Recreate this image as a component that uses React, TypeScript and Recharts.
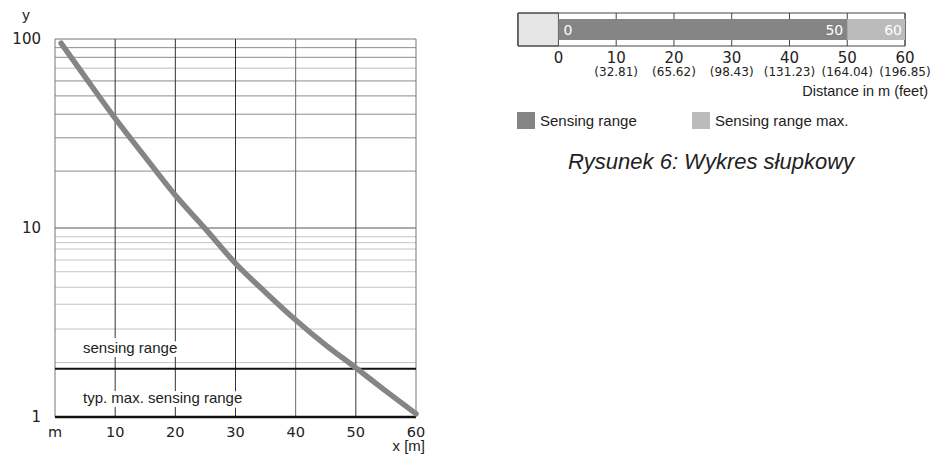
import React from 'react';
import {
  LineChart,
  Line,
  XAxis,
  YAxis,
  ReferenceLine,
  BarChart,
  Bar,
  CartesianGrid,
  ReferenceArea,
  LabelList,
  Legend,
} from 'recharts';

const FONT = '"Liberation Sans", Arial, sans-serif';
const NUM_FONT = '"DejaVu Sans", sans-serif';

// ---------- Left chart (log scale) ----------
const distances = [1, 5, 10, 15, 20, 25, 30, 35, 40, 45, 50, 55, 60];
const excessGain = [95, 63, 38, 23.7, 14.9, 9.9, 6.5, 4.56, 3.26, 2.4, 1.82, 1.37, 1.04];
const xTicks = [0, 10, 20, 30, 40, 50, 60];
const xTickLabels = ['m', '10', '20', '30', '40', '50', '60'];
const yTicks = [1, 10, 100];
const yGridDecade = [10];
const yGridUpper = [20, 30, 40, 50, 60, 80, 90];
const yGridUpperLight = [70];
const yGridLower = [1.94, 2.92, 3.95, 4.86, 5.87, 6.77, 7.74, 8.36, 8.99];
const xGridDark = [10, 20, 30, 50];
const xGridMid = [40];
const sensingRangeLimit = 1.8;

const lineData = distances.map((d, i) => ({ x: d, y: excessGain[i] }));

// ---------- Right bar chart ----------
const barTicks = [0, 10, 20, 30, 40, 50, 60];
const feetLabels = ['', '(32.81)', '(65.62)', '(98.43)', '(131.23)', '(164.04)', '(196.85)'];
const rangeStart = 0;
const sensingRange = 50;
const sensingRangeMax = 60;
const blindZoneStart = -7;
const barData = [
  { name: 'range', sensing: sensingRange, extra: sensingRangeMax - sensingRange },
];

const RangeLabels = (props: any) => {
  const vb = props.viewBox || {};
  const x = (vb.x ?? 55) + 28;
  const y = vb.y ?? 369;
  const common = {
    fontSize: 15,
    fill: '#222',
    stroke: '#fff',
    strokeWidth: 8,
    strokeLinejoin: 'round' as const,
    paintOrder: 'stroke',
    fontFamily: FONT,
  };
  return (
    <g>
      <text x={x} y={y - 15.5} {...common}>sensing range</text>
      <text x={x} y={y + 34} {...common}>typ. max. sensing range</text>
    </g>
  );
};

const YLabel = (props: any) => {
  const vb = props.viewBox || {};
  return (
    <text x={(vb.x ?? 10) + 16} y={(vb.y ?? 39) - 19} textAnchor="middle" fontSize={15} fill="#222" fontFamily={FONT}>
      y
    </text>
  );
};

const XLabel = (props: any) => {
  const vb = props.viewBox || {};
  return (
    <text x={(vb.x ?? 55) + (vb.width ?? 361) + 9} y={(vb.y ?? 417) + 34} textAnchor="end" fontSize={15} fill="#222" fontFamily={FONT}>
      x [m]
    </text>
  );
};

const DistanceTick = (props: any) => {
  const { x, y, payload } = props;
  const i = barTicks.indexOf(payload.value);
  return (
    <g fontFamily={NUM_FONT} fill="#222">
      <text x={x} y={y + 17} textAnchor="middle" fontSize={15}>{payload.value}</text>
      {feetLabels[i] ? (
        <text x={x} y={y + 29.5} textAnchor="middle" fontSize={12}>{feetLabels[i]}</text>
      ) : null}
    </g>
  );
};

const DistanceLabel = (props: any) => {
  const vb = props.viewBox || {};
  return (
    <text x={(vb.x ?? 518) + (vb.width ?? 387) + 23} y={(vb.y ?? 46) + 50} textAnchor="end" fontSize={14.5} fill="#222" fontFamily={FONT}>
      Distance in m (feet)
    </text>
  );
};

const SensingBarLabel = (props: any) => {
  const vb = props.viewBox || props;
  const { x, y, width, height } = vb;
  const cy = y + height / 2;
  return (
    <g fontFamily={NUM_FONT} fontSize={14} fill="#fff">
      <text x={x + 5} y={cy} dy="0.36em">{rangeStart}</text>
      <text x={x + width - 4} y={cy} dy="0.36em" textAnchor="end">{sensingRange}</text>
    </g>
  );
};

const MaxBarLabel = (props: any) => {
  const vb = props.viewBox || props;
  const { x, y, width, height } = vb;
  const cy = y + height / 2;
  return (
    <text x={x + width - 3} y={cy} dy="0.36em" textAnchor="end" fontFamily={NUM_FONT} fontSize={14} fill="#fff">
      {sensingRangeMax}
    </text>
  );
};

const LegendContent = (props: any) => {
  const items = props.payload || [];
  return (
    <div style={{ position: 'relative', height: 20, fontFamily: FONT, fontSize: 15, color: '#222' }}>
      {items.map((it: any, i: number) => (
        <div key={i} style={{ position: 'absolute', left: i * 175, top: 0, display: 'flex', alignItems: 'center' }}>
          <span style={{ display: 'inline-block', width: 18, height: 17, background: it.color, marginRight: 5 }} />
          <span>{it.value}</span>
        </div>
      ))}
    </div>
  );
};

export default function App() {
  return (
    <div style={{ position: 'absolute', left: 0, top: 0, width: 940, height: 458, background: '#fff', fontFamily: FONT }}>
      <div style={{ position: 'absolute', left: 0, top: 0 }}>
        <LineChart width={470} height={458} data={lineData} margin={{ top: 39, right: 54, left: 10, bottom: 11 }}>
          <XAxis
            dataKey="x"
            type="number"
            domain={[0, 60]}
            ticks={xTicks}
            interval={0}
            tickFormatter={(v: number) => xTickLabels[xTicks.indexOf(v)]}
            axisLine={false}
            tickLine={false}
            tickSize={0}
            tickMargin={10}
            height={30}
            tick={{ fontSize: 14.5, fill: '#222', fontFamily: NUM_FONT }}
            label={<XLabel />}
          />
          <YAxis
            type="number"
            scale="log"
            domain={[1, 100]}
            allowDataOverflow
            ticks={yTicks}
            interval={0}
            axisLine={false}
            tickLine={false}
            tickSize={0}
            tickMargin={14}
            width={45}
            tick={{ fontSize: 15, fill: '#222', fontFamily: NUM_FONT }}
            label={<YLabel />}
          />
          {yGridLower.map((v) => (
            <ReferenceLine key={'l' + v} y={v} stroke="#c4c4c4" strokeWidth={1} />
          ))}
          {yGridUpper.map((v) => (
            <ReferenceLine key={'u' + v} y={v} stroke="#8c8c8c" strokeWidth={1} />
          ))}
          {yGridUpperLight.map((v) => (
            <ReferenceLine key={'ul' + v} y={v} stroke="#d2d2d2" strokeWidth={1.5} />
          ))}
          {yGridDecade.map((v) => (
            <ReferenceLine key={'d' + v} y={v} stroke="#555" strokeWidth={1} />
          ))}
          <ReferenceLine y={100} stroke="#777" strokeWidth={1} />
          <ReferenceLine x={0} stroke="#777" strokeWidth={1} />
          <ReferenceLine x={60} stroke="#777" strokeWidth={1} />
          {xGridMid.map((v) => (
            <ReferenceLine key={'xm' + v} x={v} stroke="#6a6a6a" strokeWidth={1} />
          ))}
          {xGridDark.map((v) => (
            <ReferenceLine key={'xd' + v} x={v} stroke="#333" strokeWidth={1} />
          ))}
          <ReferenceLine y={1} stroke="#111" strokeWidth={2.5} />
          <ReferenceLine y={sensingRangeLimit} stroke="#111" strokeWidth={2} label={<RangeLabels />} />
          <Line
            type="monotone"
            dataKey="y"
            stroke="#858585"
            strokeWidth={5.5}
            strokeLinecap="round"
            dot={false}
            isAnimationActive={false}
          />
        </LineChart>
      </div>

      <div style={{ position: 'absolute', left: 500, top: 0 }}>
        <BarChart
          width={440}
          height={140}
          data={barData}
          layout="vertical"
          margin={{ top: 13, right: 35, left: 18, bottom: 39 }}
        >
          <CartesianGrid horizontal={false} vertical stroke="#444" strokeWidth={1} />
          <XAxis
            type="number"
            domain={[blindZoneStart, sensingRangeMax]}
            ticks={barTicks}
            interval={0}
            allowDataOverflow
            axisLine={false}
            tickLine={false}
            tickSize={0}
            tickMargin={0}
            height={55}
            tick={<DistanceTick />}
            label={<DistanceLabel />}
          />
          <YAxis type="category" dataKey="name" hide width={0} />
          <ReferenceArea x1={blindZoneStart} x2={rangeStart} fill="#e6e6e6" fillOpacity={1} stroke="#555" strokeWidth={1} />
          <Bar dataKey="sensing" name="Sensing range" stackId="r" fill="#858585" barSize={21} isAnimationActive={false}>
            <LabelList dataKey="sensing" content={<SensingBarLabel />} />
          </Bar>
          <Bar dataKey="extra" name="Sensing range max." stackId="r" fill="#bbbbbb" barSize={21} isAnimationActive={false}>
            <LabelList dataKey="extra" content={<MaxBarLabel />} />
          </Bar>
          <ReferenceArea x1={blindZoneStart} x2={sensingRangeMax} fill="none" stroke="#444" strokeWidth={1} />
          <Legend
            layout="horizontal"
            verticalAlign="middle"
            align="center"
            content={<LegendContent />}
            wrapperStyle={{ position: 'absolute', top: 112, left: 17, width: 420, height: 20 }}
          />
        </BarChart>
      </div>

      <svg style={{ position: 'absolute', left: 500, top: 140 }} width={440} height={40}>
        <text x={211} y={29} textAnchor="middle" fontStyle="italic" fontSize={22} fill="#222" fontFamily={FONT}>
          Rysunek 6: Wykres słupkowy
        </text>
      </svg>
    </div>
  );
}
